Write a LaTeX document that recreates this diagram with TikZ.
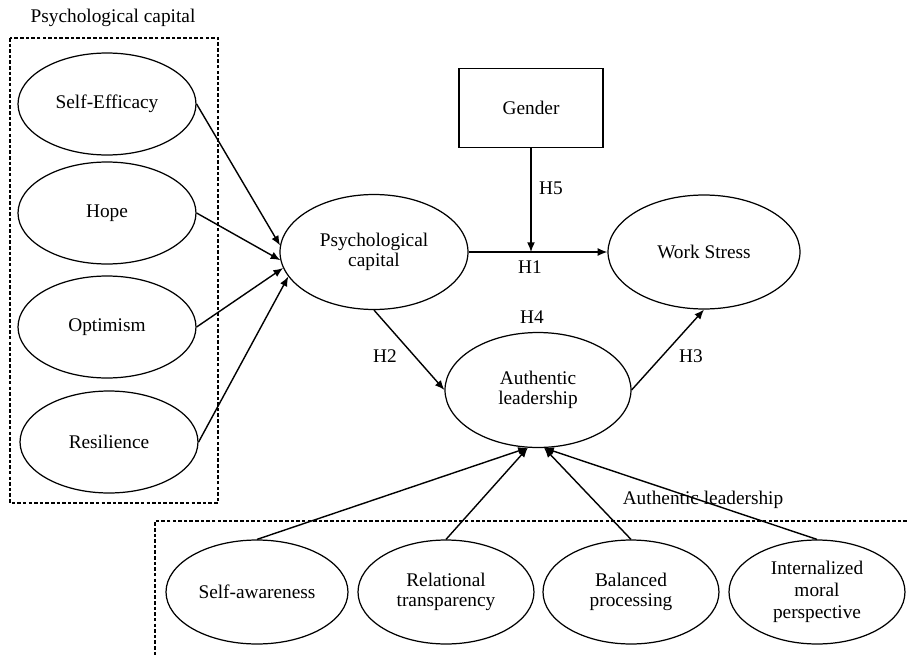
\documentclass[tikz,border=0pt]{standalone}
\usepackage{fontspec}
\setmainfont{Liberation Serif}
\usepackage{tikz}
\usetikzlibrary{shapes.geometric}
\usetikzlibrary{arrows.meta,arrows}

\tikzset{
  construct/.style={ellipse, draw, line width=0.7pt, minimum width=3.56cm, minimum height=2.04cm, align=center, inner sep=0pt},
  grpbox/.style={draw, dash pattern=on 2pt off 1.2pt, line width=0.7pt},
  link/.style={line width=0.8pt, -{Latex[length=5.5pt,width=4.5pt]}},
}

\begin{document}
\begin{tikzpicture}[x=0.02cm, y=-0.02cm, font=\fontsize{11}{11}\selectfont]
\useasboundingbox (0,0) rectangle (907,656);
%%%%%psychological capital group
\node (pctitle) at (113,18) {Psychological capital};
\draw[grpbox] (10,38) rectangle (218,503);
\node[construct] (se) at (107,104) {Self-Efficacy};
\node[construct] (hp) at (107,213) {Hope};
\node[construct] (op) at (107,327) {Optimism};
\node[construct] (rs) at (109,442) {Resilience};
%%%%%main constructs
\node[construct, minimum width=3.76cm, minimum height=2.3cm] (pc) at (374,252) {Psychological\\capital};
\node[draw, line width=0.7pt, minimum width=2.88cm, minimum height=1.58cm] (gd) at (531,108) {Gender};
\node[construct, minimum width=3.84cm, minimum height=2.28cm] (ws) at (704,252) {Work Stress};
\node[construct, minimum width=3.72cm, minimum height=2.3cm] (al) at (538,390) {Authentic\\leadership};
%%%%%authentic leadership group
\node (altitle) at (703,500) {Authentic leadership};
\draw[grpbox] (907,521) -- (155,521) -- (155,656);
\node[construct, minimum width=3.64cm, minimum height=2.08cm] (sa) at (257,592) {Self-awareness};
\node[construct, minimum width=3.52cm, minimum height=2.08cm] (rt) at (446,592) {Relational\\transparency};
\node[construct, minimum width=3.52cm, minimum height=2.08cm] (bp) at (631,592) {Balanced\\processing};
\node[construct, minimum width=3.52cm, minimum height=2.08cm, font=\fontsize{11}{12.5}\selectfont] (im) at (817,592) {Internalized\\moral\\perspective};
%%%%%paths
\draw[link] (se.east) -- (pc.176);
\draw[link] (hp.east) -- (pc.185);
\draw[link] (op.east) -- (pc.190);
\draw[link] (rs.east) -- (pc.196);
\draw[link] (pc.east) -- (ws.west);
\draw[link] (gd.south) -- (gd.south |- pc.east);
\draw[link] (pc.south) -- (al.west);
\draw[link] (al.east) -- (ws.south);
\draw[link] (sa.north) -- (al.260);
\draw[link] (rt.north) -- (al.260);
\draw[link] (bp.north) -- (al.276);
\draw[link] (im.north) -- (al.276);
%%%%%hypotheses
\node (h1) at (530,267) {H1};
\node (h2) at (385,356) {H2};
\node (h3) at (691,356) {H3};
\node (h4) at (532,317) {H4};
\node (h5) at (551,188) {H5};
\end{tikzpicture}
\end{document}
